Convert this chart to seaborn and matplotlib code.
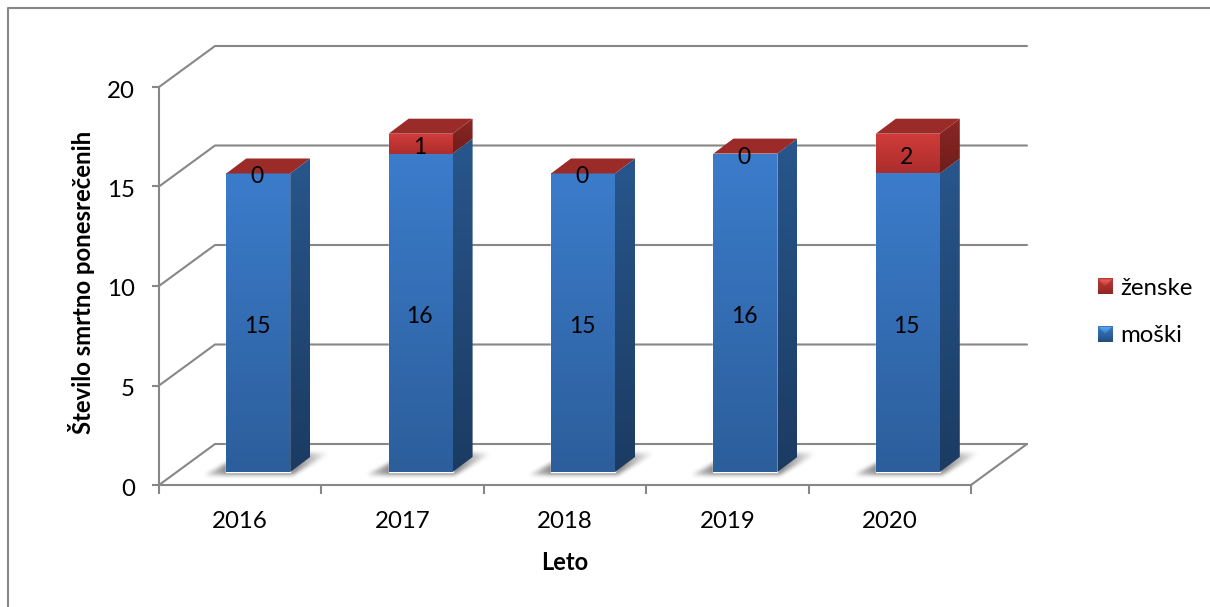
import numpy as np
import matplotlib
matplotlib.use("Agg")
import matplotlib.pyplot as plt
from matplotlib.colors import to_rgb
from matplotlib.lines import Line2D
from matplotlib.patches import Polygon
from matplotlib.path import Path
from matplotlib.transforms import Affine2D, IdentityTransform
import seaborn as sns

years = ["2016", "2017", "2018", "2019", "2020"]
moski = [15, 16, 15, 16, 15]
zenske = [0, 1, 0, 0, 2]
y_ticks = [0, 5, 10, 15, 20]

GREY = "#878787"
BLUE = "#3472bd"
RED = "#bc3331"

sns.set_theme(style="white")
plt.rcParams["font.family"] = ["Lato", "DejaVu Sans"]

W, H = 1210, 607
fig = plt.figure(figsize=(W / 100, H / 100), dpi=100)
ax = fig.add_axes([159 / W, 1 - 485 / H, (971 - 159) / W, (485 - 87) / H])

# pixel shifts of the pseudo 3d box
wall = (56, 41)
front = (18, 13)
side = (20, 15)
bar_w = 0.394
pixel = IdentityTransform()

sns.barplot(x=years, y=moski, color=BLUE, width=bar_w, saturation=1, errorbar=None, ax=ax, zorder=3)
sns.barplot(x=years, y=zenske, bottom=moski, color=RED, width=bar_w, saturation=1, errorbar=None, ax=ax, zorder=3)
ax.set_xlim(-0.5, 4.5)
ax.set_ylim(0, 20)
ax.autoscale(False)

shift = Affine2D().translate(*front)
for p in ax.patches:
    p.set_transform(ax.transData + shift)
label_shift = ax.transData + Affine2D().translate(front[0] - 1, front[1] - 3.5)


def px(x, y, d=(0, 0)):
    a, b = ax.transData.transform((x, y))
    return a + d[0], b + d[1]


def grad_face(verts, top, bottom, z):
    top, bottom = np.array(to_rgb(top)), np.array(to_rgb(bottom))
    t = np.linspace(0, 1, 80)[:, None, None]
    img = (1 - t) * top[None, None, :] + t * bottom[None, None, :]
    xs = [v[0] for v in verts]
    ys = [v[1] for v in verts]
    im = ax.imshow(img, extent=(min(xs), max(xs), min(ys), max(ys)), origin="upper", aspect="auto",
                   transform=pixel, zorder=z, interpolation="bilinear")
    im.set_clip_box(fig.bbox)
    im.set_clip_path(Polygon(verts, closed=True, transform=pixel))
    return im


def blur(a, n=5, rounds=2):
    kernel = np.ones(n) / n
    for _ in range(rounds):
        a = np.apply_along_axis(lambda r: np.convolve(r, kernel, mode="same"), 0, a)
        a = np.apply_along_axis(lambda r: np.convolve(r, kernel, mode="same"), 1, a)
    return a


def soft_shadow(verts, x_from, x_to, strength, z):
    # grey floor shadow that fades with the distance from the bar
    xs = [v[0] for v in verts]
    ys = [v[1] for v in verts]
    x0, x1, y0, y1 = int(min(xs)) - 12, int(max(xs)) + 12, int(min(ys)) - 12, int(max(ys)) + 12
    gx, gy = np.meshgrid(np.arange(x0, x1) + 0.5, np.arange(y0, y1) + 0.5)
    inside = Path(verts).contains_points(np.c_[gx.ravel(), gy.ravel()]).reshape(gx.shape)
    dist = np.maximum(np.maximum(x_from - gx, gx - x_to), 0)
    fade = np.clip(1 - dist / 34, 0.05, 1)
    rgba = np.zeros(gx.shape + (4,))
    rgba[..., :3] = 0.45
    rgba[..., 3] = blur(inside.astype(float)) * fade * strength
    im = ax.imshow(rgba, extent=(x0, x1, y0, y1), origin="lower", aspect="auto",
                   transform=pixel, zorder=z, interpolation="bilinear")
    im.set_clip_box(fig.bbox)


# walls and floor
for v in y_ticks:
    x0, y0 = px(-0.5, v)
    x1, y1 = px(4.5, v, wall)
    ax.add_line(Line2D([x0, x0 + wall[0], x1], [y0, y0 + wall[1], y1], color=GREY, lw=1.5,
                       transform=pixel, clip_on=False, zorder=1))
x0, y0 = px(4.5, 0)
ax.add_line(Line2D([x0, x0 + wall[0]], [y0, y0 + wall[1]], color=GREY, lw=1.5,
                   transform=pixel, clip_on=False, zorder=1))

# bars
for i, year in enumerate(years):
    m, z = moski[i], zenske[i]
    left, right = i - bar_w / 2, i + bar_w / 2
    a = px(left, 0, front)
    b = px(right, 0, front)
    soft_shadow([(a[0] - 22, a[1] - 3), (b[0] + 2, b[1] - 3), (b[0] + 40, b[1] + 19), (a[0] + 20, a[1] + 19)],
                a[0], b[0] + 6, 0.8, 1.5)
    # blue part
    tl, tr = px(left, m, front), px(right, m, front)
    grad_face([a, b, tr, tl], "#3b7ccb", "#2c5e9b", 4)
    grad_face([b, (b[0] + side[0], b[1] + side[1]), (tr[0] + side[0], tr[1] + side[1]), tr],
              "#28568c", "#1b3b62", 4)
    # red part
    tl2, tr2 = px(left, m + z, front), px(right, m + z, front)
    if z > 0:
        grad_face([tl, tr, tr2, tl2], "#d03c3a", "#ab2d2c", 4.5)
        grad_face([tr, (tr[0] + side[0], tr[1] + side[1]), (tr2[0] + side[0], tr2[1] + side[1]), tr2],
                  "#8c2724", "#6e1d1b", 4.5)
    ax.add_patch(Polygon([tl2, tr2, (tr2[0] + side[0], tr2[1] + side[1]), (tl2[0] + side[0], tl2[1] + side[1])],
                         closed=True, fc="#9a2b28", ec="none", transform=pixel, zorder=5))
    # data labels
    ax.text(i, m / 2, str(m), transform=label_shift, ha="center", va="center",
            fontsize=16.5, color="black", zorder=10)
    ax.text(i, m + z / 2, str(z), transform=label_shift, ha="center", va="center",
            fontsize=16.5, color="black", zorder=10)

# axes
sns.despine(ax=ax, top=True, right=True)
for s in ["left", "bottom"]:
    ax.spines[s].set_color(GREY)
    ax.spines[s].set_linewidth(1.5)
ax.set_yticks(y_ticks)
ax.tick_params(axis="y", which="major", left=True, length=5, width=1.5, color=GREY, labelsize=17.3,
               pad=12.5, labelcolor="black")
for t in ax.get_yticklabels():
    t.set_transform(t.get_transform() + Affine2D().translate(0, -2))
ax.set_xticks(np.arange(-0.5, 5, 1))
ax.set_xticklabels([])
ax.set_xticks(range(len(years)), labels=years, minor=True)
ax.tick_params(axis="x", which="major", bottom=True, length=6.5, width=1.5, color=GREY)
ax.tick_params(axis="x", which="minor", bottom=False, length=0, labelsize=17.3, pad=18.5, labelcolor="black")
ax.set_xlabel("Leto", fontsize=17, fontweight="bold", color="black", va="center")
ax.set_ylabel("Število smrtno ponesrečenih", fontsize=17.2, fontweight="bold", color="black", va="center")
ax.xaxis.set_label_coords(0.5, (485 - 562) / 398)
ax.yaxis.set_label_coords((81.5 - 159) / 812, (485 - 282.5) / 398)

# legend, swatches painted over afterwards
containers = ax.containers
leg = ax.legend([containers[1], containers[0]], ["ženske", "moški"], loc="center left",
                bbox_to_anchor=(1097.5 / W, 1 - 312 / H), bbox_transform=fig.transFigure, frameon=False,
                fontsize=17.3, borderpad=0, borderaxespad=0, handlelength=0.64, handleheight=0.64,
                handletextpad=0.3, labelspacing=1.1, labelcolor="black")
leg.set_zorder(11)
fig.canvas.draw()
swatches = [("#c23a38", "#8f2624", "#e8625c"), ("#3a7ac8", "#234d80", "#5aa4ea")]
for patch, cols in zip(leg.get_patches(), swatches):
    bb = patch.get_window_extent()
    verts = [(bb.x0, bb.y0), (bb.x1, bb.y0), (bb.x1, bb.y1), (bb.x0, bb.y1)]
    grad_face(verts, cols[0], cols[1], 12)
    mid = (bb.x0 + bb.x1) / 2, (bb.y0 + bb.y1) / 2
    grad_face([(bb.x0 + 1, bb.y1 - 1), (bb.x1 - 1, bb.y1 - 1), mid], cols[2], cols[0], 13)

# chart frame, open at right and bottom
fig.add_artist(Line2D([8 / W, 8 / W, 1], [0, 1 - 8 / H, 1 - 8 / H], color=GREY, lw=1.5, transform=fig.transFigure))

fig.savefig("out.png", dpi=100, facecolor="white")
